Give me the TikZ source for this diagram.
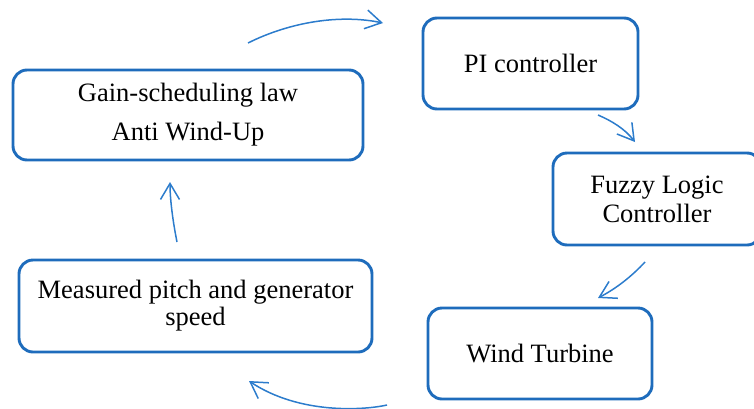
\documentclass[tikz,border=0pt]{standalone}
\usepackage{fontspec}
\setmainfont{Liberation Serif}
\usetikzlibrary{arrows.meta}
\definecolor{boxblue}{RGB}{30,108,188}
\definecolor{arrowblue}{RGB}{44,124,204}
\begin{document}
\begin{tikzpicture}[x=1pt,y=-1pt,
  stage/.style={draw=boxblue, line width=2.9pt, rounded corners=14pt, fill=white,
    align=center, inner sep=0pt, font=\fontsize{26.5}{29}\selectfont},
  flow/.style={draw=arrowblue, line width=1.5pt,
    -{Straight Barb[length=16pt,width=19pt]}}]
\useasboundingbox (0,0) rectangle (754,408);
\clip (0,0) rectangle (754,408);

% control-loop stages
\node[stage, minimum width=350pt, minimum height=90pt] (gain) at (188,115)
  {Gain-scheduling law\\[10pt]Anti Wind-Up};
\node[stage, minimum width=215pt, minimum height=91pt] (pi) at (530.5,63.5)
  {PI controller};
\node[stage, minimum width=208pt, minimum height=92pt] (fuzzy) at (657,199)
  {Fuzzy Logic\\Controller};
\node[stage, minimum width=224pt, minimum height=91pt] (wind) at (540,353.5)
  {Wind Turbine};
\node[stage, minimum width=353pt, minimum height=92pt] (meas) at (195.5,306)
  {Measured pitch and generator\\[-2pt]speed};

% end points of the circulating arrows
\coordinate (a1s) at (248,43);   \coordinate (a1e) at (383,23);
\coordinate (a2s) at (598,115);  \coordinate (a2e) at (635,142);
\coordinate (a3s) at (645,262);  \coordinate (a3e) at (598,298);
\coordinate (a4s) at (387,405);  \coordinate (a4e) at (249,381);
\coordinate (a5s) at (177,242);  \coordinate (a5e) at (170,182);

\draw[flow] (a1s) .. controls (290,22) and (340,14) .. (a1e);
\draw[flow] (a2s) .. controls (612,121) and (625,129) .. (a2e);
\draw[flow] (a3s) .. controls (632,276) and (617,288) .. (a3e);
\draw[flow] (a4s) .. controls (365,410) and (300,415) .. (a4e);
\draw[flow] (a5s) .. controls (173,222) and (170,200) .. (a5e);
\end{tikzpicture}
\end{document}
